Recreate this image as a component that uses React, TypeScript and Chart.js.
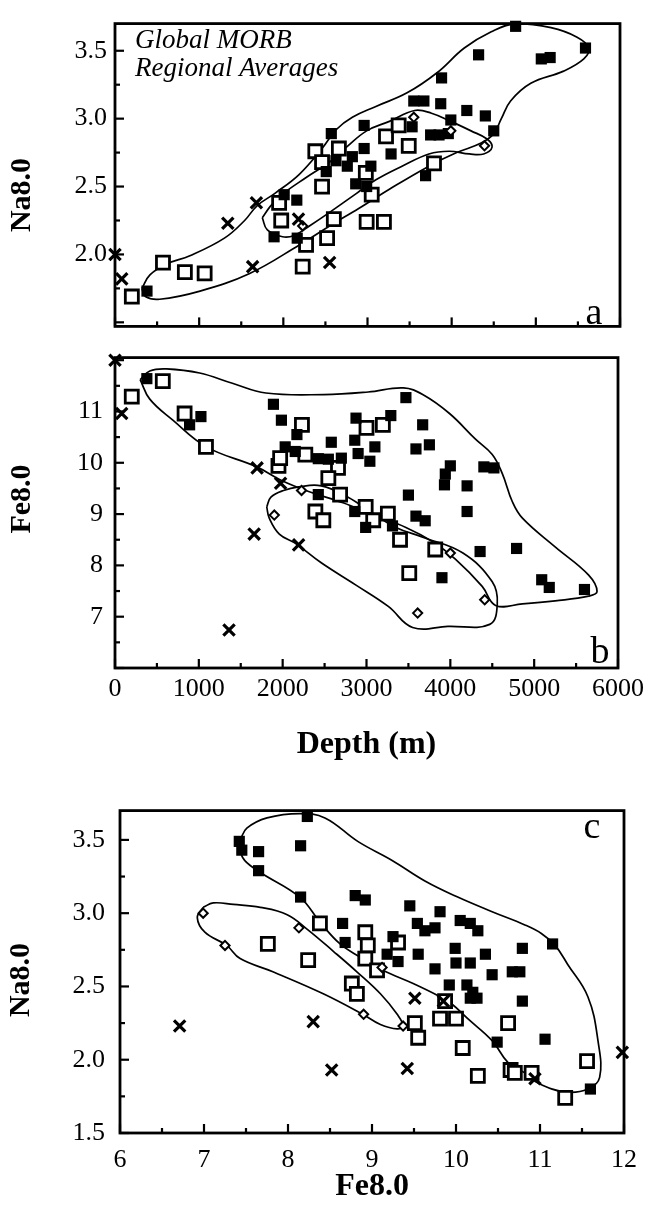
import React, { useEffect, useRef } from 'react';
import { Chart, registerables } from 'chart.js';

Chart.register(...registerables);

type Pair = [number, number];

const SERIF = '"Liberation Serif", "Times New Roman", Times, serif';

// ---------- Panel a: Na8.0 against axial depth (m) ----------
const A_FILLED: Pair[] = [
  [380, 1.73], [1890, 2.13], [2010, 2.44], [2160, 2.40], [2165, 2.12], [2510, 2.61],
  [2570, 2.89], [2625, 2.69], [2760, 2.65], [2820, 2.72], [2860, 2.52], [2960, 2.78],
  [2960, 2.95], [2990, 2.50], [3040, 2.65], [3280, 2.74], [3530, 2.94], [3550, 3.13],
  [3670, 3.13], [3690, 2.58], [3750, 2.88], [3850, 2.88], [3870, 3.11], [3880, 3.30],
  [3960, 2.89], [3990, 2.99], [4180, 3.06], [4320, 3.47], [4400, 3.02], [4500, 2.91],
  [4760, 3.68], [5065, 3.44], [5170, 3.45], [5590, 3.52],
];
const A_OPEN: Pair[] = [
  [200, 1.69], [570, 1.94], [830, 1.87], [1065, 1.86], [1950, 2.38], [1975, 2.25],
  [2230, 1.91], [2270, 2.07], [2380, 2.76], [2460, 2.50], [2460, 2.68], [2520, 2.12],
  [2600, 2.26], [2660, 2.78], [2980, 2.60], [2990, 2.24], [3050, 2.44], [3195, 2.24],
  [3220, 2.87], [3370, 2.95], [3490, 2.80], [3790, 2.67],
];
const A_CROSS: Pair[] = [
  [0, 2.0], [80, 1.82], [1340, 2.23], [1635, 1.91], [1680, 2.38], [2180, 2.26], [2550, 1.94],
];
const A_DIAMOND: Pair[] = [[2230, 2.21], [3550, 3.01], [3990, 2.91], [4390, 2.80]];
const A_FIELD_MAIN: Pair[] = [
  [320, 1.75], [415, 1.85], [615, 1.93], [890, 1.99], [1300, 2.12], [1540, 2.25],
  [1690, 2.36], [1900, 2.45], [2190, 2.59], [2460, 2.78], [2630, 2.92], [2820, 3.01],
  [3100, 3.09], [3470, 3.19], [3830, 3.34], [4150, 3.52], [4470, 3.64], [4760, 3.70],
  [5180, 3.67], [5490, 3.60], [5630, 3.52], [5570, 3.44], [5330, 3.35], [4940, 3.26],
  [4700, 3.13], [4590, 3.00], [4500, 2.89], [4350, 2.82], [4060, 2.75], [3730, 2.65],
  [3260, 2.48], [2900, 2.34], [2550, 2.21], [2190, 2.07], [1600, 1.86], [1010, 1.73],
  [530, 1.67], [360, 1.69], [320, 1.75],
];
const A_FIELD_DIAMOND: Pair[] = [
  [1750, 2.27], [1840, 2.35], [1960, 2.43], [2280, 2.57], [2550, 2.68], [2750, 2.79],
  [2990, 2.91], [3260, 2.98], [3560, 3.06], [3760, 3.04], [3990, 2.98], [4230, 2.91],
  [4420, 2.85], [4480, 2.79], [4380, 2.74], [4210, 2.74], [3970, 2.76], [3730, 2.74],
  [3410, 2.65], [3100, 2.55], [2870, 2.45], [2550, 2.31], [2310, 2.21], [2130, 2.14],
  [1990, 2.13], [1810, 2.18], [1750, 2.27],
];

// ---------- Panel b: Fe8.0 against axial depth (m) ----------
const B_FILLED: Pair[] = [
  [380, 11.64], [890, 10.74], [1025, 10.90], [1890, 11.14], [1985, 10.83], [2030, 10.31],
  [2150, 10.22], [2170, 10.55], [2425, 10.08], [2545, 10.07], [2580, 10.40], [2700, 10.09],
  [2860, 10.44], [2875, 10.87], [2900, 10.18], [3040, 10.03], [3100, 10.31], [3290, 10.92],
  [3470, 11.27], [3590, 10.27], [3670, 10.74], [3750, 10.35], [4000, 9.94], [3940, 9.78],
  [4400, 9.92], [4520, 9.90], [3930, 9.57], [4200, 9.55], [3500, 9.37], [4200, 9.05],
  [3590, 8.96], [3700, 8.87], [2425, 9.38], [2860, 9.05], [2990, 8.74], [3310, 8.77],
  [4355, 8.27], [4790, 8.33], [3900, 7.76], [5090, 7.72], [5180, 7.57], [5600, 7.53],
];
const B_OPEN: Pair[] = [
  [200, 11.29], [570, 11.59], [830, 10.96], [1085, 10.31], [1950, 9.94], [1970, 10.09],
  [2230, 10.74], [2270, 10.16], [2660, 9.90], [2545, 9.70], [2685, 9.38], [2390, 9.05],
  [2485, 8.88], [2990, 9.14], [3080, 8.88], [3000, 10.68], [3195, 10.74], [3255, 9.01],
  [3400, 8.50], [3510, 7.85], [3820, 8.31],
];
const B_CROSS: Pair[] = [
  [0, 12.0], [80, 10.96], [1695, 9.90], [1975, 9.60], [1660, 8.61], [2190, 8.40], [1360, 6.74],
];
const B_DIAMOND: Pair[] = [[1900, 8.98], [2225, 9.46], [4000, 8.24], [3610, 7.07], [4410, 7.33]];
const B_FIELD_MAIN: Pair[] = [
  [300, 11.62], [415, 11.79], [615, 11.83], [1010, 11.75], [1400, 11.55], [1800, 11.36],
  [2490, 11.33], [3020, 11.38], [3440, 11.46], [3670, 11.33], [3990, 10.96], [4300, 10.46],
  [4500, 10.16], [4620, 9.79], [4740, 9.24], [4860, 8.92], [5250, 8.36], [5650, 7.81],
  [5750, 7.49], [5650, 7.40], [5250, 7.31], [4860, 7.25], [4540, 7.22], [4380, 7.59],
  [4060, 8.12], [3790, 8.46], [3470, 8.74], [3080, 8.98], [2720, 9.22], [2310, 9.44],
  [1980, 9.66], [1690, 9.92], [1090, 10.31], [690, 10.83], [415, 11.24], [300, 11.62],
];
const B_FIELD_DIAMOND: Pair[] = [
  [1810, 9.14], [1860, 9.33], [2010, 9.46], [2190, 9.53], [2460, 9.55], [2780, 9.33],
  [3080, 9.01], [3350, 8.74], [3670, 8.55], [4150, 8.24], [4500, 7.68], [4560, 7.25],
  [4470, 6.85], [3970, 6.81], [3550, 6.79], [3260, 7.20], [2870, 7.62], [2460, 8.05],
  [2160, 8.42], [1960, 8.61], [1840, 8.92], [1810, 9.14],
];

// ---------- Panel c: Na8.0 against Fe8.0 ----------
const C_FILLED: Pair[] = [
  [7.42, 3.49], [7.45, 3.43], [7.65, 3.42], [8.23, 3.66], [8.15, 3.46], [7.65, 3.29],
  [8.15, 3.11], [8.65, 2.93], [8.80, 3.12], [8.92, 3.09], [8.68, 2.80], [9.45, 3.05],
  [9.81, 3.01], [9.54, 2.93], [9.63, 2.88], [9.75, 2.90], [10.05, 2.95], [10.17, 2.93],
  [10.26, 2.88], [9.25, 2.84], [9.18, 2.72], [9.31, 2.67], [9.55, 2.72], [9.75, 2.62],
  [9.99, 2.76], [10.00, 2.66], [10.17, 2.66], [10.35, 2.72], [10.43, 2.58], [10.67, 2.60],
  [10.76, 2.60], [9.92, 2.51], [10.13, 2.51], [10.20, 2.46], [10.17, 2.42], [10.25, 2.42],
  [10.79, 2.40], [11.06, 2.14], [11.60, 1.80], [10.49, 2.12], [11.15, 2.79], [10.79, 2.76],
];
const C_OPEN: Pair[] = [
  [7.76, 2.79], [8.24, 2.68], [8.38, 2.93], [8.92, 2.87], [8.95, 2.78], [8.92, 2.69],
  [9.06, 2.61], [8.76, 2.52], [8.82, 2.45], [9.31, 2.80], [9.51, 2.25], [9.55, 2.15],
  [9.87, 2.40], [9.81, 2.28], [10.00, 2.28], [10.08, 2.08], [10.26, 1.89], [10.62, 2.25],
  [10.65, 1.93], [10.90, 1.91], [11.30, 1.74], [11.56, 1.99], [10.70, 1.91],
];
const C_CROSS: Pair[] = [
  [6.71, 2.23], [8.30, 2.26], [8.52, 1.93], [9.42, 1.94], [9.51, 2.42], [9.85, 2.40],
  [10.94, 1.87], [11.98, 2.05],
];
const C_DIAMOND: Pair[] = [[6.99, 3.0], [7.25, 2.78], [8.13, 2.90], [8.90, 2.31], [9.37, 2.23], [9.12, 2.63]];
const C_FIELD_MAIN: Pair[] = [
  [7.43, 3.50], [7.51, 3.58], [7.75, 3.65], [8.14, 3.68], [8.44, 3.65], [8.83, 3.49],
  [9.24, 3.36], [9.63, 3.22], [10.02, 3.11], [10.43, 3.01], [10.82, 2.92], [11.02, 2.86],
  [11.18, 2.78], [11.33, 2.65], [11.57, 2.43], [11.69, 2.13], [11.71, 1.88], [11.57, 1.80],
  [11.30, 1.78], [10.98, 1.84], [10.82, 1.91], [10.62, 1.98], [10.43, 2.13], [10.14, 2.28],
  [9.95, 2.38], [9.81, 2.43], [9.49, 2.52], [9.13, 2.61], [8.86, 2.70], [8.62, 2.79],
  [8.38, 2.94], [8.14, 3.11], [7.64, 3.29], [7.46, 3.38], [7.43, 3.50],
];
const C_FIELD_DIAMOND: Pair[] = [
  [6.99, 3.04], [7.11, 3.07], [7.35, 3.06], [7.67, 3.04], [7.99, 2.99], [8.23, 2.89],
  [8.54, 2.74], [8.82, 2.60], [9.10, 2.45], [9.30, 2.31], [9.37, 2.23], [9.30, 2.21],
  [9.10, 2.24], [8.89, 2.31], [8.42, 2.45], [7.82, 2.60], [7.43, 2.69], [7.27, 2.78],
  [7.01, 2.87], [6.92, 2.97], [6.99, 3.04],
];

// ---------- Axis ticks and text ----------
const DEPTH_TICKS = [0, 1000, 2000, 3000, 4000, 5000, 6000];
const NA_TICKS_A = [2.0, 2.5, 3.0, 3.5];
const FE_TICKS_B = [7, 8, 9, 10, 11];
const FE_TICKS_C = [6, 7, 8, 9, 10, 11, 12];
const NA_TICKS_C = [1.5, 2.0, 2.5, 3.0, 3.5];

const NOTE_LINES = ['Global MORB', 'Regional Averages'];
const NA_TITLE = 'Na8.0';
const FE_TITLE = 'Fe8.0';
const DEPTH_TITLE = 'Depth (m)';

const pts = (arr: Pair[]) => arr.map(([x, y]) => ({ x, y }));

function markerDatasets(filled: Pair[], open: Pair[], cross: Pair[], diamond: Pair[]) {
  const common = { showLine: false, clip: false as const, pointBorderColor: '#000', pointHoverRadius: 0 };
  return [
    { ...common, label: 'x', data: pts(cross), pointStyle: 'crossRot', pointRadius: 8, pointBorderWidth: 3.2, pointBackgroundColor: '#000', order: 0 },
    { ...common, label: 'diamond', data: pts(diamond), pointStyle: 'rectRot', pointRadius: 4.6, pointBorderWidth: 2, pointBackgroundColor: '#fff', order: 1 },
    { ...common, label: 'filled', data: pts(filled), pointStyle: 'rect', pointRadius: 7.9, pointBorderWidth: 0, pointBackgroundColor: '#000', order: 2 },
    { ...common, label: 'open', data: pts(open), pointStyle: 'rect', pointRadius: 9.2, pointBorderWidth: 2.8, pointBackgroundColor: '#fff', order: 3 },
  ];
}

function fieldDataset(loop: Pair[]) {
  return {
    label: 'field', data: pts(loop), showLine: true, pointRadius: 0, pointHoverRadius: 0,
    borderColor: '#000', borderWidth: 1.7, tension: 0.4, fill: false, order: 5, clip: false as const,
  };
}

type FrameCfg = {
  xMajor: number; xMinor: number; yMajor: number; yMinor: number;
  yTitle: string; yTitleX: number; yTitleY: number;
  letter: string; letterX: number; letterY: number;
  notes?: string[]; notesX?: number; notesY?: number;
};

// Frame, inward tick marks, rotated y title, panel letter and notes.
function makeFramePlugin(cfg: FrameCfg) {
  return {
    id: 'panelFrame',
    beforeDatasetsDraw(chart: any) {
      const { ctx, chartArea: ca, scales } = chart;
      ctx.save();
      ctx.strokeStyle = '#000';
      const run = (scale: any, major: number, minor: number, horizontal: boolean) => {
        const first = Math.ceil(scale.min / minor - 1e-9) * minor;
        for (let v = first; v <= scale.max + 1e-9; v += minor) {
          const isMajor = Math.abs(v / major - Math.round(v / major)) < 1e-6;
          const len = isMajor ? 9 : 5;
          const p = scale.getPixelForValue(v);
          ctx.lineWidth = 2.2;
          ctx.beginPath();
          if (horizontal) {
            ctx.moveTo(p, ca.bottom);
            ctx.lineTo(p, ca.bottom - len);
          } else {
            ctx.moveTo(ca.left, p);
            ctx.lineTo(ca.left + len, p);
          }
          ctx.stroke();
        }
      };
      run(scales.x, cfg.xMajor, cfg.xMinor, true);
      run(scales.y, cfg.yMajor, cfg.yMinor, false);
      ctx.lineWidth = 2.8;
      ctx.strokeRect(ca.left, ca.top, ca.right - ca.left, ca.bottom - ca.top);
      ctx.restore();
    },
    afterDraw(chart: any) {
      const { ctx } = chart;
      ctx.save();
      ctx.fillStyle = '#000';
      ctx.font = `bold 30px ${SERIF}`;
      ctx.textAlign = 'center';
      ctx.textBaseline = 'middle';
      ctx.save();
      ctx.translate(cfg.yTitleX, cfg.yTitleY);
      ctx.rotate(-Math.PI / 2);
      ctx.fillText(cfg.yTitle, 0, 0);
      ctx.restore();
      ctx.font = `38px ${SERIF}`;
      ctx.textBaseline = 'alphabetic';
      ctx.fillText(cfg.letter, cfg.letterX, cfg.letterY);
      if (cfg.notes) {
        ctx.font = `italic 27px ${SERIF}`;
        ctx.textAlign = 'left';
        cfg.notes.forEach((line, i) => ctx.fillText(line, cfg.notesX, (cfg.notesY as number) + i * 28));
      }
      ctx.restore();
    },
  };
}

const tickFont = { family: SERIF, size: 26 };
const titleFont = { family: SERIF, size: 32, weight: 'bold' as const };

function yScale(min: number, max: number, ticks: number[], fmt: (v: number) => string, width: number, pad: number) {
  return {
    type: 'linear' as const, position: 'left' as const, min, max,
    afterBuildTicks: (s: any) => { s.ticks = ticks.map((value) => ({ value })); },
    afterFit: (s: any) => { s.width = width; },
    grid: { display: false, drawTicks: false },
    border: { display: false },
    ticks: { autoSkip: false, padding: pad, color: '#000', font: tickFont, callback: (v: any) => fmt(Number(v)) },
  };
}

function xScale(min: number, max: number, ticks: number[], height: number, pad: number, title: string, titlePad: number) {
  return {
    type: 'linear' as const, position: 'bottom' as const, min, max,
    afterBuildTicks: (s: any) => { s.ticks = ticks.map((value) => ({ value })); },
    afterFit: (s: any) => { s.height = height; },
    grid: { display: false, drawTicks: false },
    border: { display: false },
    ticks: { autoSkip: false, maxRotation: 0, padding: pad, color: '#000', font: tickFont, callback: (v: any) => String(Number(v)) },
    title: { display: true, text: title, color: '#000', font: titleFont, padding: { top: 0, bottom: titlePad } },
  };
}

const baseOptions = {
  responsive: false,
  animation: false as const,
  devicePixelRatio: 1,
  events: [] as any[],
  plugins: { legend: { display: false }, tooltip: { enabled: false } },
};

function configA() {
  return {
    type: 'scatter' as const,
    data: { datasets: [...markerDatasets(A_FILLED, A_OPEN, A_CROSS, A_DIAMOND), fieldDataset(A_FIELD_MAIN), fieldDataset(A_FIELD_DIAMOND)] },
    options: {
      ...baseOptions,
      layout: { padding: { left: 0, top: 14, right: 30, bottom: 9 } },
      scales: {
        x: { type: 'linear' as const, min: 0, max: 6000, display: false },
        y: yScale(1.47, 3.7, NA_TICKS_A, (v) => v.toFixed(1), 115, 8),
      },
    },
    plugins: [makeFramePlugin({
      xMajor: 1000, xMinor: 500, yMajor: 0.5, yMinor: 0.25,
      yTitle: NA_TITLE, yTitleX: 22, yTitleY: 195,
      letter: 'a', letterX: 594, letterY: 324,
      notes: NOTE_LINES, notesX: 135, notesY: 48,
    })],
  };
}

function configB() {
  return {
    type: 'scatter' as const,
    data: { datasets: [...markerDatasets(B_FILLED, B_OPEN, B_CROSS, B_DIAMOND), fieldDataset(B_FIELD_MAIN), fieldDataset(B_FIELD_DIAMOND)] },
    options: {
      ...baseOptions,
      layout: { padding: { left: 0, top: 11, right: 30, bottom: 0 } },
      scales: {
        x: xScale(0, 6000, DEPTH_TICKS, 102, 6, DEPTH_TITLE, 6),
        y: yScale(6, 12.05, FE_TICKS_B, (v) => String(v), 115, 12),
      },
    },
    plugins: [makeFramePlugin({
      xMajor: 1000, xMinor: 500, yMajor: 1, yMinor: 0.5,
      yTitle: FE_TITLE, yTitleX: 22, yTitleY: 169,
      letter: 'b', letterX: 600, letterY: 333,
    })],
  };
}

function configC() {
  return {
    type: 'scatter' as const,
    data: { datasets: [...markerDatasets(C_FILLED, C_OPEN, C_CROSS, C_DIAMOND), fieldDataset(C_FIELD_MAIN), fieldDataset(C_FIELD_DIAMOND)] },
    options: {
      ...baseOptions,
      layout: { padding: { left: 0, top: 27, right: 26, bottom: 0 } },
      scales: {
        x: xScale(6, 12, FE_TICKS_C, 83, 12, FE_TITLE, 10),
        y: yScale(1.5, 3.7, NA_TICKS_C, (v) => v.toFixed(1), 120, 15),
      },
    },
    plugins: [makeFramePlugin({
      xMajor: 1, xMinor: 0.5, yMajor: 0.5, yMinor: 0.25,
      yTitle: NA_TITLE, yTitleX: 21, yTitleY: 200,
      letter: 'c', letterX: 592, letterY: 58,
    })],
  };
}

function PanelCanvas({ top, height, build }: { top: number; height: number; build: () => any }) {
  const ref = useRef<HTMLCanvasElement>(null);
  useEffect(() => {
    if (!ref.current) return;
    const chart = new Chart(ref.current, build());
    return () => chart.destroy();
  }, [build]);
  return (
    <canvas
      ref={ref}
      width={650}
      height={height}
      style={{ position: 'absolute', left: 0, top, width: 650, height }}
    />
  );
}

export default function App() {
  return (
    <div style={{ position: 'absolute', left: 0, top: 0, width: 650, height: 1216, background: '#fff', overflow: 'hidden' }}>
      <PanelCanvas top={0} height={350} build={configA} />
      <PanelCanvas top={330} height={440} build={configB} />
      <PanelCanvas top={780} height={436} build={configC} />
    </div>
  );
}
